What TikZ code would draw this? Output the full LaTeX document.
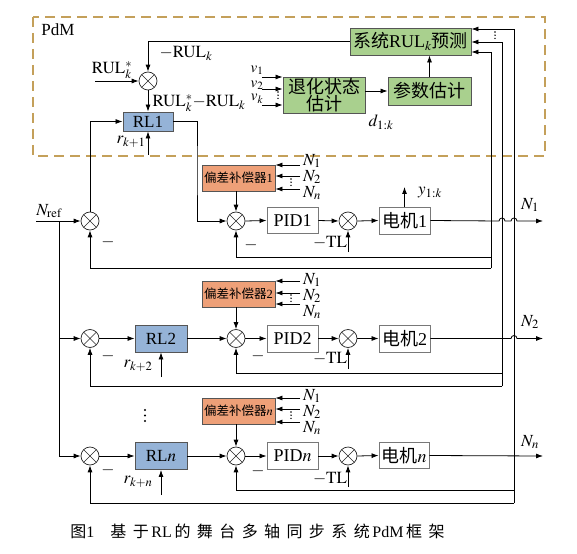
\documentclass[tikz,border=0pt]{standalone}
\usepackage{mathptmx}
\usepackage{fontspec}
\setmainfont{Liberation Serif}
\newfontfamily\cjk{Noto Sans CJK SC}
\newfontfamily\capc[LetterSpace=40]{Noto Sans CJK SC}
\usetikzlibrary{arrows.meta,calc}
\definecolor{pdmc}{RGB}{196,160,90}
\definecolor{rlblue}{RGB}{149,179,215}
\definecolor{grn}{RGB}{169,208,142}
\definecolor{org}{RGB}{238,160,120}
\definecolor{bordc}{RGB}{85,85,85}
\definecolor{wbord}{RGB}{120,120,120}
\newcommand\fsbig{\fontsize{18}{17}\selectfont}
\newcommand\fsmid{\fontsize{17}{18}\selectfont}
\newcommand\fslab{\fontsize{17}{18}\selectfont}
\newcommand\fsv{\fontsize{15}{16}\selectfont}
\newcommand\fssml{\fontsize{12.5}{14}\selectfont}
\begin{document}
\begin{tikzpicture}[x=1pt,y=-1pt,line width=0.8pt,>={Latex[length=7pt,width=5pt]},
  sumc/.style={circle,draw=black!85,line width=0.7pt,minimum size=18pt,inner sep=0pt,fill=white,
    path picture={\draw[line width=0.6pt] (path picture bounding box.south west)--(path picture bounding box.north east)
      (path picture bounding box.north west)--(path picture bounding box.south east);}},
  box/.style={draw=bordc,line width=0.9pt,inner sep=0pt,align=center},
  gbox/.style={box,fill=grn},
  rlbox/.style={box,fill=rlblue,minimum width=52pt,minimum height=27pt,font=\fsmid},
  obox/.style={box,fill=org,minimum width=73pt,minimum height=26pt,font=\fssml},
  wbox/.style={box,draw=wbord,fill=white,minimum width=51pt,minimum height=27pt,font=\fsbig},
  lab/.style={inner sep=0pt,font=\fslab},
  vlab/.style={inner sep=0pt,font=\fsv},
  dotpt/.style={fill=black,draw=none}]
\useasboundingbox (0,0) rectangle (577,553);
% PdM region
\draw[pdmc,line width=1.6pt,dash pattern=on 10pt off 6pt] (33,17) rectangle (545,156);
\node[anchor=west,inner sep=0pt,font=\fontsize{17}{17}\selectfont] (pdm) at (41,30) {PdM};
% top blocks
\node[gbox,minimum width=121pt,minimum height=27pt,font=\fsbig] (sys) at (410.5,41.5) {{\cjk 系统}RUL$_k${\cjk 预测}};
\node[gbox,minimum width=82pt,minimum height=36pt,font=\cjk\fsbig] (deg) at (324,95) {退化状态\\估计};
\node[gbox,minimum width=83pt,minimum height=28pt,font=\cjk\fsbig] (par) at (429.5,91) {参数估计};
\node[sumc] (s0) at (148,81) {};
\node[rlbox,minimum width=50pt,minimum height=19pt] (rl1) at (148,121.5) {RL1};
% row 1
\node[obox] (bias1) at (238.5,178) {{\cjk 偏差补偿器}1};
\node[sumc] (A1) at (90,221) {};
\node[sumc] (B1) at (236,221) {};
\node[wbox,minimum height=26pt] (pid1) at (292.5,220.5) {PID1};
\node[sumc] (C1) at (348,221) {};
\node[wbox] (m1) at (404.5,220.5) {{\cjk 电机}1};
% row 2
\node[sumc] (A2) at (90,338.5) {};
\node[rlbox] (rl2) at (161,338.5) {RL2};
\node[obox] (bias2) at (238.5,294) {{\cjk 偏差补偿器}2};
\node[sumc] (B2) at (236,338.5) {};
\node[wbox] (pid2) at (292.5,338.5) {PID2};
\node[sumc] (C2) at (348,338.5) {};
\node[wbox] (m2) at (404.5,338.5) {{\cjk 电机}2};
% row n
\node[sumc] (An) at (90,456) {};
\node[rlbox] (rln) at (161,456) {RL$n$};
\node[obox] (biasn) at (238.5,411) {{\cjk 偏差补偿器}$n$};
\node[sumc] (Bn) at (236,456) {};
\node[wbox] (pidn) at (292.5,456) {PID$n$};
\node[sumc] (Cn) at (348,456) {};
\node[wbox,minimum width=50pt,minimum height=26pt] (mn) at (404,455.5) {{\cjk 电机}$n$};
% coordinates
\coordinate (rulin) at (95,81);
\coordinate (rk1) at (148,155);
\coordinate (t1) at (197,170);
\coordinate (v1s) at (262,77);
\coordinate (v2s) at (262,89);
\coordinate (vks) at (262,105);
\coordinate (nref) at (36,221);
\coordinate (nbr) at (59,221);
\coordinate (y1k) at (404.5,187);
\coordinate (out1) at (543,221);
\coordinate (out2) at (543,338.5);
\coordinate (outn) at (543,456);
\coordinate (bus1t) at (491,52);
\coordinate (bus1i) at (491,257);
\coordinate (bus1b) at (491,268);
\coordinate (bus2t) at (502,42);
\coordinate (bus2i) at (502,373);
\coordinate (bus2b) at (502,386);
\coordinate (busnt) at (514,29);
\coordinate (busni) at (514,490);
\coordinate (busnb) at (514,503);
\coordinate (tl1) at (348,252);
\coordinate (tl2) at (348,369);
\coordinate (tln) at (348,487);
\coordinate (rk2) at (161,377);
\coordinate (rkn) at (161,495);
\coordinate (n1a) at (300,165);
\coordinate (n1b) at (300,176);
\coordinate (n1c) at (300,189);
\coordinate (n2a) at (300,281);
\coordinate (n2b) at (300,293);
\coordinate (n2c) at (300,304);
\coordinate (n3a) at (300,398);
\coordinate (n3b) at (300,409);
\coordinate (n3c) at (300,422);
% PdM connections
\draw[->] (sys.west) -| (s0.north);
\draw[->] (rulin) -- (s0.west);
\draw[->] (s0.south) -- (rl1.north);
\draw[->] (rk1) -- (rl1.south);
\draw[->] (v1s) -- (v1s -| deg.west);
\draw[->] (v2s) -- (v2s -| deg.west);
\draw[->] (vks) -- (vks -| deg.west);
\draw[->] (deg.east |- par.west) -- (par.west);
\draw[->] (par.north) -- (par.north |- sys.south);
% row 1 connections
\draw[->] (nref) -- (A1.west);
\draw[->] (A1.north) |- (rl1.west);
\draw[->] (rl1.east) -| (t1) |- (B1.west);
\draw[->] (bias1.south -| B1) -- (B1.north);
\draw[->] (B1.east) -- (pid1.west);
\draw[->] (pid1.east) -- (C1.west);
\draw[->] (C1.east) -- (m1.west);
\draw[->] (tl1) -- (C1.south);
\draw[->] (m1.north) -- (y1k);
\draw[->] (m1.east) -- (499,221) arc (180:360:3) -- (511,221) arc (180:360:3) -- (out1);
\draw[->] (bus1b) -- (bus1t) -- (bus1t -| sys.east);
\draw[->] (bus1i) -| (B1.south);
\draw[->] (bus1b) -| (A1.south);
\foreach \c in {n1a,n1b,n1c} \draw[->] (\c) -- (bias1.east |- \c);
% row 2 connections
\draw (nbr) -- (nbr |- An);
\draw[->] (nbr |- A2) -- (A2.west);
\draw[->] (A2.east) -- (rl2.west);
\draw[->] (rl2.east) -- (B2.west);
\draw[->] (bias2.south -| B2) -- (B2.north);
\draw[->] (B2.east) -- (pid2.west);
\draw[->] (pid2.east) -- (C2.west);
\draw[->] (C2.east) -- (m2.west);
\draw[->] (tl2) -- (C2.south);
\draw[->] (rk2) -- (rl2.south);
\draw[->] (m2.east) -- (511,338.5) arc (180:360:3) -- (out2);
\draw[->] (bus2b) -- (bus2t) -- (bus2t -| sys.east);
\draw[->] (bus2i) -| (B2.south);
\draw[->] (bus2b) -| (A2.south);
\foreach \c in {n2a,n2b,n2c} \draw[->] (\c) -- (bias2.east |- \c);
% row n connections
\draw[->] (nbr |- An) -- (An.west);
\draw[->] (An.east) -- (rln.west);
\draw[->] (rln.east) -- (Bn.west);
\draw[->] (biasn.south -| Bn) -- (Bn.north);
\draw[->] (Bn.east) -- (pidn.west);
\draw[->] (pidn.east) -- (Cn.west);
\draw[->] (Cn.east) -- (mn.west);
\draw[->] (tln) -- (Cn.south);
\draw[->] (rkn) -- (rln.south);
\draw[->] (mn.east) -- (outn);
\draw[->] (busnb) -- (busnt) -- (busnt -| sys.east);
\draw[->] (busni) -| (Bn.south);
\draw[->] (busnb) -| (An.south);
\foreach \c in {n3a,n3b,n3c} \draw[->] (\c) -- (biasn.east |- \c);
% labels
\node[lab] (lrul) at (186,53) {$-\mathrm{RUL}_k$};
\node[lab] (lrs) at (112,70) {$\mathrm{RUL}_k^*$};
\node[lab] (ldiff) at (199,103) {$\mathrm{RUL}_k^*{-}\mathrm{RUL}_k$};
\node[lab] (lrk1) at (131,142) {$r_{k+1}$};
\node[lab] (lrk2) at (138,366) {$r_{k+2}$};
\node[lab] (lrkn) at (138,482) {$r_{k+n}$};
\node[lab] (ld) at (381,122) {$d_{1:k}$};
\node[lab] (ly) at (430,193) {$y_{1:k}$};
\node[vlab] (lv1) at (257,70) {$v_1$};
\node[vlab] (lv2) at (257,85) {$v_2$};
\node[vlab] (lvk) at (257,99) {$v_k$};
\node[lab] (lnref) at (49,211) {$N_{\mathrm{ref}}$};
\node[lab] (lo1) at (530,205) {$N_1$};
\node[lab] (lo2) at (530,322) {$N_2$};
\node[lab] (lon) at (530,442) {$N_n$};
\node[lab] (ltl1) at (330,243) {$-\mathrm{TL}$};
\node[lab] (ltl2) at (330,359) {$-\mathrm{TL}$};
\node[lab] (ltln) at (330,479) {$-\mathrm{TL}$};
\node[lab] (mA1) at (108,242) {$-$};
\node[lab] (mB1) at (251,245) {$-$};
\node[lab] (mA2) at (108,356) {$-$};
\node[lab] (mB2) at (258,356) {$-$};
\node[lab] (mAn) at (108,470) {$-$};
\node[lab] (mBn) at (258,471) {$-$};
% small vertical dot groups
\foreach \dx/\dy/\ds/\dr in {278/92/3.2/0.8, 495/32/3.2/0.8, 291/179/3.2/0.8, 291/295/3.2/0.8, 291/412/3.2/0.8, 145/410/5.5/1.2}{
  \foreach \k in {0,1,2} \fill[dotpt] (\dx,\dy+\k*\ds) circle (\dr);
}
\foreach \r/\ya/\yb/\yc in {1/161/177/193, 2/280/296/312, 3/396/412/428}{
  \node[lab] (na\r) at (312,\ya) {$N_1$};
  \node[lab] (nb\r) at (312,\yb) {$N_2$};
  \node[lab] (nc\r) at (312,\yc) {$N_n$};
}
% caption
\node[inner sep=0pt,anchor=west,font=\fontsize{16}{16}\selectfont] (cap) at (70,531)
  {{\capc 图}1\hspace{16pt}{\capc 基于}\,RL\,{\capc 的舞台多轴同步系统}\,PdM\,{\capc 框架}};
\end{tikzpicture}
\end{document}
